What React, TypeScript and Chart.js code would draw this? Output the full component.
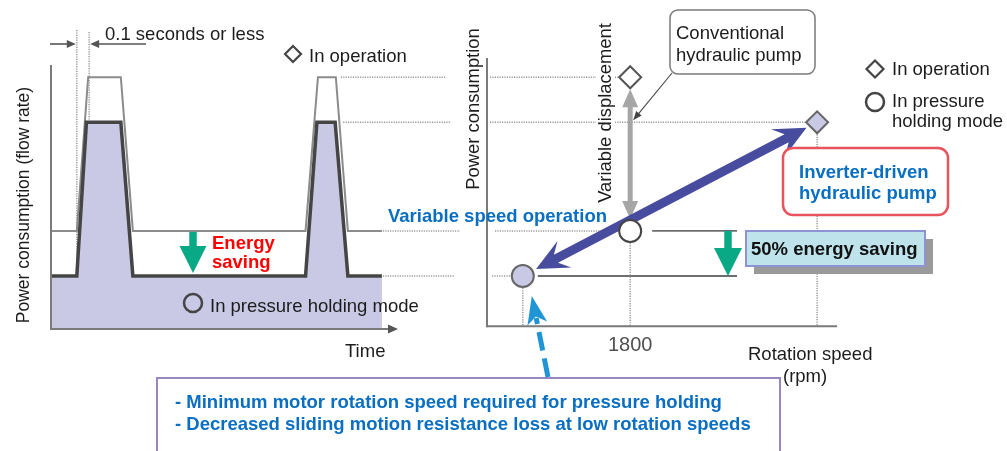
import React, { useEffect, useRef } from 'react';
import { Chart, registerables } from 'chart.js';

Chart.register(...registerables);

const W = 1007;
const H = 451;
const FONT = '"Liberation Sans", Arial, Helvetica, sans-serif';
const LAVENDER = '#c9c9e6';
const BLUE_TEXT = '#0a6fc2';
const GREEN = '#0aa985';

// ---------- Left diagram: power consumption (flow rate) vs time ----------
const conventionalTime = [0, 7.5, 10.8, 20.3, 23.8, 74.0, 77.6, 82.8, 86.3, 96.2];
const conventionalPower = [37, 37, 95, 95, 37, 37, 95, 95, 37, 37];
const inverterTime = [0, 7.5, 10.3, 20.3, 23.8, 74.0, 77.3, 82.6, 86.3, 96.2];
const inverterPower = [20, 20, 78, 78, 20, 20, 78, 78, 20, 20];

// ---------- Right diagram: power consumption vs rotation speed ----------
const pointNames = [
  'Conventional pump - in operation',
  'Conventional pump - pressure holding',
  'Inverter-driven pump - in operation',
  'Inverter-driven pump - pressure holding',
];
const pointSpeed = [1800, 1800, 4150, 450];
const pointPower = [95, 37, 78, 20];
const pointShape = ['rectRot', 'circle', 'rectRot', 'circle'];
const speedTicks = [1800];

type Ctx = CanvasRenderingContext2D;

function poly(ctx: Ctx, pts: number[][], fill: string) {
  ctx.beginPath();
  ctx.moveTo(pts[0][0], pts[0][1]);
  for (let i = 1; i < pts.length; i++) ctx.lineTo(pts[i][0], pts[i][1]);
  ctx.closePath();
  ctx.fillStyle = fill;
  ctx.fill();
}

function blockArrow(ctx: Ctx, x1: number, y1: number, x2: number, y2: number, shaft: number,
  headLen: number, headW: number, color: string, both = false, notch = 0) {
  const L = Math.hypot(x2 - x1, y2 - y1);
  const ux = (x2 - x1) / L, uy = (y2 - y1) / L;
  const nx = -uy, ny = ux;
  const hs = shaft / 2, hh = headW / 2;
  const at = (bx: number, by: number, d: number, o: number) => [bx + ux * d + nx * o, by + uy * d + ny * o];
  const pts: number[][] = [];
  if (both) pts.push([x1, y1], at(x1, y1, headLen, hh), at(x1, y1, headLen * (1 - notch), hs));
  else pts.push(at(x1, y1, 0, hs));
  pts.push(at(x2, y2, -headLen * (1 - notch), hs), at(x2, y2, -headLen, hh), [x2, y2],
    at(x2, y2, -headLen, -hh), at(x2, y2, -headLen * (1 - notch), -hs));
  if (both) pts.push(at(x1, y1, headLen * (1 - notch), -hs), at(x1, y1, headLen, -hh));
  else pts.push(at(x1, y1, 0, -hs));
  poly(ctx, pts, color);
}

function line(ctx: Ctx, x1: number, y1: number, x2: number, y2: number, color: string, width: number, dash: number[] = []) {
  ctx.save();
  ctx.beginPath();
  ctx.setLineDash(dash);
  ctx.moveTo(x1, y1);
  ctx.lineTo(x2, y2);
  ctx.strokeStyle = color;
  ctx.lineWidth = width;
  ctx.stroke();
  ctx.restore();
}

function dotted(ctx: Ctx, x1: number, y1: number, x2: number, y2: number) {
  line(ctx, x1, y1, x2, y2, '#9a9a9a', 1.5, [1.2, 1.2]);
}

function lineArrow(ctx: Ctx, x1: number, y1: number, x2: number, y2: number, color: string, width: number, headLen: number, headHalf: number) {
  const L = Math.hypot(x2 - x1, y2 - y1);
  const ux = (x2 - x1) / L, uy = (y2 - y1) / L;
  line(ctx, x1, y1, x2 - ux * headLen * 0.7, y2 - uy * headLen * 0.7, color, width);
  const bx = x2 - ux * headLen, by = y2 - uy * headLen;
  poly(ctx, [[x2, y2], [bx - uy * headHalf, by + ux * headHalf], [bx + uy * headHalf, by - ux * headHalf]], color);
}

function text(ctx: Ctx, s: string, x: number, y: number, font: string, color: string, align: CanvasTextAlign = 'left') {
  ctx.save();
  ctx.font = font;
  ctx.fillStyle = color;
  ctx.textAlign = align;
  ctx.textBaseline = 'alphabetic';
  ctx.fillText(s, x, y);
  ctx.restore();
}

function vtext(ctx: Ctx, s: string, x: number, y: number, font: string, color: string, bg?: string) {
  ctx.save();
  ctx.translate(x, y);
  ctx.rotate(-Math.PI / 2);
  ctx.font = font;
  ctx.textAlign = 'center';
  ctx.textBaseline = 'alphabetic';
  if (bg) {
    const w = ctx.measureText(s).width;
    ctx.fillStyle = bg;
    ctx.fillRect(-w / 2 - 3, -15, w + 6, 19);
  }
  ctx.fillStyle = color;
  ctx.fillText(s, 0, 0);
  ctx.restore();
}

function roundBox(ctx: Ctx, x: number, y: number, w: number, h: number, r: number, fill: string, stroke: string, lw: number) {
  ctx.save();
  ctx.beginPath();
  ctx.roundRect(x, y, w, h, r);
  ctx.fillStyle = fill;
  ctx.fill();
  ctx.strokeStyle = stroke;
  ctx.lineWidth = lw;
  ctx.stroke();
  ctx.restore();
}

function diamond(ctx: Ctx, x: number, y: number, r: number, fill: string | null, stroke: string, lw: number) {
  ctx.save();
  ctx.beginPath();
  ctx.moveTo(x - r, y); ctx.lineTo(x, y - r); ctx.lineTo(x + r, y); ctx.lineTo(x, y + r); ctx.closePath();
  if (fill) { ctx.fillStyle = fill; ctx.fill(); }
  ctx.strokeStyle = stroke; ctx.lineWidth = lw; ctx.stroke();
  ctx.restore();
}

function circle(ctx: Ctx, x: number, y: number, r: number, fill: string | null, stroke: string, lw: number) {
  ctx.save();
  ctx.beginPath();
  ctx.arc(x, y, r, 0, Math.PI * 2);
  if (fill) { ctx.fillStyle = fill; ctx.fill(); }
  ctx.strokeStyle = stroke; ctx.lineWidth = lw; ctx.stroke();
  ctx.restore();
}

const REG = `18.5px ${FONT}`;
const BOLD = `bold 18.5px ${FONT}`;
const INK = '#1c1c1c';

const leftDecor = {
  id: 'leftDecor',
  beforeDatasetsDraw(chart: any) {
    const ctx: Ctx = chart.ctx;
    const xs = chart.scales.x, ys = chart.scales.y, a = chart.chartArea;
    const xStart = xs.getPixelForValue(conventionalTime[1]);
    const xPeak = xs.getPixelForValue(conventionalTime[2]);
    dotted(ctx, xStart, 30, xStart, a.bottom);
    dotted(ctx, xPeak + 1, 32, xPeak + 1, ys.getPixelForValue(inverterPower[2]) - 2);
  },
  afterDatasetsDraw(chart: any) {
    const ctx: Ctx = chart.ctx;
    const xs = chart.scales.x, ys = chart.scales.y, a = chart.chartArea;
    const px = (v: number) => xs.getPixelForValue(v);
    const py = (v: number) => ys.getPixelForValue(v);
    // axes
    line(ctx, a.left, 65, a.left, a.bottom + 1, '#7a7a7a', 2);
    line(ctx, a.left, a.bottom, a.right - 2, a.bottom, '#7a7a7a', 2);
    poly(ctx, [[a.right + 3, a.bottom], [a.right - 7, a.bottom - 4.5], [a.right - 7, a.bottom + 4.5]], '#555');
    // 0.1 s dimension arrows
    const xStart = px(conventionalTime[1]);
    const xPeak = px(conventionalTime[2]) + 1;
    lineArrow(ctx, a.left - 1, 44, xStart - 1, 44, '#555', 1.6, 9, 4);
    lineArrow(ctx, 146, 44, xPeak + 1, 44, '#555', 1.6, 9, 4);
    text(ctx, '0.1 seconds or less', 105, 40, REG, INK);
    // bridge lines to right diagram
    const lastT = inverterTime[inverterTime.length - 1];
    dotted(ctx, px(conventionalTime[7]) + 5, py(conventionalPower[7]), 446, py(conventionalPower[7]));
    dotted(ctx, px(inverterTime[7]) + 8, py(inverterPower[7]), 450, py(inverterPower[7]));
    dotted(ctx, px(lastT) + 1, py(conventionalPower[9]), 460, py(conventionalPower[9]));
    dotted(ctx, px(lastT) + 1, py(inverterPower[9]), 455, py(inverterPower[9]));
    // energy saving arrow
    blockArrow(ctx, 193, py(conventionalPower[0]) + 1, 193, py(inverterPower[0]) - 3, 7.5, 27, 27, GREEN);
    text(ctx, 'Energy', 212, 249, BOLD, '#ff0000');
    text(ctx, 'saving', 212, 268, BOLD, '#ff0000');
    // legends
    diamond(ctx, 293, 54, 8, '#fff', '#444', 2.2);
    text(ctx, 'In operation', 309, 62, REG, INK);
    circle(ctx, 193, 303, 9, null, '#444', 2.5);
    text(ctx, 'In pressure holding mode', 210, 311.5, REG, INK);
    text(ctx, 'Time', 345, 357, REG, INK);
    vtext(ctx, 'Power consumption (flow rate)', 28.5, 205, `17.5px ${FONT}`, INK);
  },
};

const rightDecor = {
  id: 'rightDecor',
  beforeDatasetsDraw(chart: any) {
    const ctx: Ctx = chart.ctx;
    const xs = chart.scales.x, ys = chart.scales.y, a = chart.chartArea;
    const P = pointSpeed.map((s, i) => [xs.getPixelForValue(s), ys.getPixelForValue(pointPower[i])]);
    const greenX = 728;
    // horizontal guides
    dotted(ctx, a.left + 3, P[0][1], P[0][0] - 12, P[0][1]);
    dotted(ctx, a.left + 3, P[2][1], P[2][0] - 12, P[2][1]);
    dotted(ctx, a.left + 8, P[1][1], P[1][0] - 12, P[1][1]);
    line(ctx, P[1][0] + 22, P[1][1], greenX + 9, P[1][1], '#6e6e6e', 1.8);
    dotted(ctx, a.left + 5, P[3][1], P[3][0] - 12, P[3][1]);
    line(ctx, P[3][0] + 15, P[3][1], greenX + 9, P[3][1], '#6e6e6e', 1.8);
    // vertical guides
    dotted(ctx, P[3][0], P[3][1] + 12, P[3][0], a.bottom);
    dotted(ctx, P[1][0], P[1][1] + 12, P[1][0], a.bottom);
    dotted(ctx, P[2][0], P[2][1] + 12, P[2][0], a.bottom);
    // variable displacement arrow
    blockArrow(ctx, P[0][0], P[0][1] + 12, P[1][0], P[1][1] - 12, 5, 18, 16, '#a6a6a6', true);
    // variable speed arrow
    {
      const dx = P[2][0] - P[3][0], dy = P[2][1] - P[3][1];
      const L = Math.hypot(dx, dy), ux = dx / L, uy = dy / L;
      blockArrow(ctx, P[3][0] + ux * 15, P[3][1] + uy * 15, P[2][0] - ux * 12, P[2][1] - uy * 12,
        9, 32, 30, '#484c9e', true, 0.3);
    }
    // pointer from conventional box
    lineArrow(ctx, 672, 73, P[0][0] + 3, ys.getPixelForValue(pointPower[2]) - 2, '#444', 1.1, 9, 3.5);
    // 50% energy saving arrow
    blockArrow(ctx, greenX, P[1][1], greenX, P[3][1], 7.5, 28, 28, GREEN);
  },
  afterDatasetsDraw(chart: any) {
    const ctx: Ctx = chart.ctx;
    const xs = chart.scales.x, ys = chart.scales.y, a = chart.chartArea;
    // axes
    line(ctx, a.left, 58, a.left, a.bottom + 1, '#7a7a7a', 2);
    line(ctx, a.left, a.bottom, a.right, a.bottom, '#7a7a7a', 2);
    speedTicks.forEach((t) => text(ctx, String(t), xs.getPixelForValue(t), 351, `20px ${FONT}`, '#505050', 'center'));
    vtext(ctx, 'Power consumption', 479, 109, `18.4px ${FONT}`, INK);
    vtext(ctx, 'Variable displacement', 611, 113, `18.4px ${FONT}`, INK, '#fff');
    text(ctx, 'Rotation speed', 748, 360, REG, INK);
    text(ctx, '(rpm)', 783, 382, REG, INK);
    text(ctx, 'Variable speed operation', 388, 222, BOLD, BLUE_TEXT);
    // conventional pump callout
    roundBox(ctx, 670, 10, 145, 64, 8, '#fff', '#7a7a7a', 1.5);
    text(ctx, 'Conventional', 676, 39, REG, INK);
    text(ctx, 'hydraulic pump', 676, 61, REG, INK);
    // legend
    diamond(ctx, 875, 69, 8.5, '#fff', '#444', 2.2);
    text(ctx, 'In operation', 892, 75, REG, INK);
    circle(ctx, 875, 102, 9, '#fff', '#444', 2.5);
    text(ctx, 'In pressure', 892, 107, REG, INK);
    text(ctx, 'holding mode', 892, 127, REG, INK);
    // inverter callout
    roundBox(ctx, 783, 148, 165, 67, 10, '#fff', '#e8535c', 2.5);
    text(ctx, 'Inverter-driven', 799, 178, BOLD, BLUE_TEXT);
    text(ctx, 'hydraulic pump', 799, 199, BOLD, BLUE_TEXT);
    // 50% box
    ctx.save();
    ctx.fillStyle = '#9a9a9a';
    ctx.fillRect(754, 239, 179, 35);
    ctx.fillStyle = '#bee3eb';
    ctx.fillRect(746, 231, 179, 35);
    ctx.strokeStyle = '#8d93d3';
    ctx.lineWidth = 2;
    ctx.strokeRect(746, 231, 179, 35);
    ctx.restore();
    text(ctx, '50% energy saving', 751, 255, BOLD, '#111');
    // bottom note box
    ctx.save();
    ctx.fillStyle = '#fff';
    ctx.fillRect(157, 378, 623, 90);
    ctx.strokeStyle = '#9b86bf';
    ctx.lineWidth = 2;
    ctx.strokeRect(157, 378, 623, 90);
    ctx.restore();
    text(ctx, '- Minimum motor rotation speed required for pressure holding', 175, 408, BOLD, BLUE_TEXT);
    text(ctx, '- Decreased sliding motion resistance loss at low rotation speeds', 175, 430, BOLD, BLUE_TEXT);
    // dashed pointer to minimum speed point
    {
      const tipX = xs.getPixelForValue(pointSpeed[3]) + 9, tipY = ys.getPixelForValue(pointPower[3]) + 20;
      const sx = 548, sy = 377;
      const L = Math.hypot(tipX - sx, tipY - sy), ux = (tipX - sx) / L, uy = (tipY - sy) / L;
      const hl = 28, hw = 10;
      line(ctx, sx, sy, tipX - ux * hl * 0.8, tipY - uy * hl * 0.8, '#1f95d6', 5, [19, 8]);
      const bx = tipX - ux * hl, by = tipY - uy * hl;
      poly(ctx, [[tipX, tipY], [bx - uy * hw, by + ux * hw], [tipX - ux * hl * 0.75, tipY - uy * hl * 0.75], [bx + uy * hw, by - ux * hw]], '#1f95d6');
    }
  },
};

export default function App() {
  const leftRef = useRef<HTMLCanvasElement>(null);
  const rightRef = useRef<HTMLCanvasElement>(null);

  useEffect(() => {
    if (!leftRef.current || !rightRef.current) return;
    const left = new Chart(leftRef.current, {
      type: 'line',
      data: {
        datasets: [
          {
            label: 'Inverter-driven hydraulic pump',
            data: inverterTime.map((t, i) => ({ x: t, y: inverterPower[i] })),
            borderColor: '#454545',
            borderWidth: 3.5,
            backgroundColor: LAVENDER,
            fill: 'origin',
            pointRadius: 0,
            tension: 0,
          },
          {
            label: 'Conventional hydraulic pump',
            data: conventionalTime.map((t, i) => ({ x: t, y: conventionalPower[i] })),
            borderColor: '#8c8c8c',
            borderWidth: 2,
            fill: false,
            pointRadius: 0,
            tension: 0,
          },
        ],
      },
      options: {
        responsive: false,
        animation: false,
        devicePixelRatio: 1,
        events: [],
        layout: { padding: { left: 51, right: W - 395, top: 64, bottom: H - 329 } },
        plugins: { legend: { display: false }, tooltip: { enabled: false } },
        scales: {
          x: { type: 'linear', min: 0, max: 100, display: false },
          y: { type: 'linear', min: 0, max: 100, display: false },
        },
      },
      plugins: [leftDecor],
    } as any);

    const right = new Chart(rightRef.current, {
      type: 'scatter',
      data: {
        labels: pointNames,
        datasets: [
          {
            label: 'Operating points',
            data: pointSpeed.map((s, i) => ({ x: s, y: pointPower[i] })),
            pointStyle: pointShape,
            pointRadius: 11,
            pointBackgroundColor: ['#fff', '#fff', LAVENDER, LAVENDER],
            pointBorderColor: ['#555', '#444', '#666', '#666'],
            pointBorderWidth: 2,
            clip: false,
          },
        ],
      },
      options: {
        responsive: false,
        animation: false,
        devicePixelRatio: 1,
        events: [],
        layout: { padding: { left: 487, right: W - 837, top: 64, bottom: H - 326.35 } },
        plugins: { legend: { display: false }, tooltip: { enabled: false } },
        scales: {
          x: { type: 'linear', min: 0, max: 4400, display: false },
          y: { type: 'linear', min: 1, max: 100, display: false },
        },
      },
      plugins: [rightDecor],
    } as any);

    return () => {
      left.destroy();
      right.destroy();
    };
  }, []);

  const canvasStyle: React.CSSProperties = { position: 'absolute', left: 0, top: 0, width: W, height: H };
  return (
    <div style={{ position: 'absolute', left: 0, top: 0, width: W, height: H, background: '#fff', overflow: 'hidden' }}>
      <canvas ref={leftRef} width={W} height={H} style={canvasStyle} />
      <canvas ref={rightRef} width={W} height={H} style={canvasStyle} />
    </div>
  );
}
